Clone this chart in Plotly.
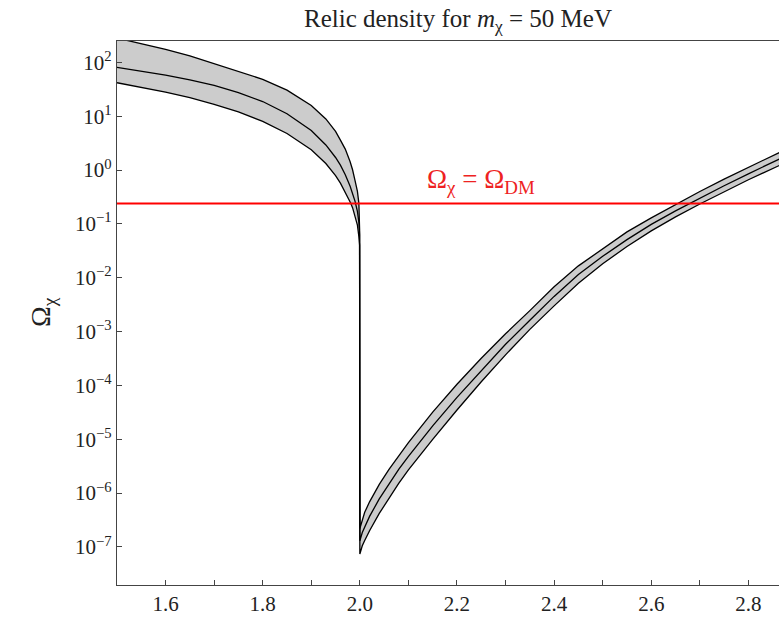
import plotly.graph_objects as go

# ---- data ----
x_vals = [1.50, 1.55, 1.60, 1.65, 1.70, 1.75, 1.80, 1.85, 1.90, 1.93, 1.95, 1.96, 1.97,
          1.98, 1.985, 1.99, 1.995, 1.998, 1.9995,
          2.000, 2.005, 2.010, 2.020, 2.040, 2.060, 2.080, 2.100, 2.150, 2.200, 2.250,
          2.300, 2.350, 2.400, 2.450, 2.500, 2.550, 2.600, 2.650, 2.700, 2.750, 2.800, 2.865]

omega_upper = [282, 224, 174, 132, 95, 69, 48.3, 30.5, 15.8, 8.9, 5.2, 3.6, 2.45,
               1.42, 1.01, 0.64, 0.40, 0.24, 0.079,
               2.2e-7, 3.3e-7, 4.4e-7, 6.9e-7, 1.45e-6, 2.75e-6, 5.0e-6, 8.7e-6, 3.2e-5, 1.05e-4, 3.2e-4,
               9.1e-4, 2.45e-3, 6.8e-3, 1.66e-2, 3.5e-2, 7.1e-2, 0.129, 0.229, 0.40, 0.68, 1.12, 2.14]

omega_central = [80.7, 68.9, 57.8, 47.2, 37.4, 27.4, 18.7, 11.1, 5.4, 2.92, 1.71, 1.23, 0.82,
                 0.50, 0.366, 0.265, 0.171, 0.107, 0.063,
                 1.3e-7, 1.86e-7, 2.4e-7, 3.7e-7, 7.8e-7, 1.48e-6, 2.75e-6, 4.8e-6, 1.78e-5, 6.0e-5, 1.9e-4,
                 5.8e-4, 1.62e-3, 4.5e-3, 1.15e-2, 2.5e-2, 5.1e-2, 9.8e-2, 0.174, 0.30, 0.51, 0.85, 1.62]

omega_lower = [41.8, 34.5, 27.9, 22.0, 16.6, 12.0, 8.0, 4.78, 2.38, 1.32, 0.79, 0.57, 0.391,
               0.255, 0.200, 0.145, 0.095, 0.058, 0.040,
               7.4e-8, 1.05e-7, 1.32e-7, 2.0e-7, 4.2e-7, 8.1e-7, 1.51e-6, 2.7e-6, 1.0e-5, 3.5e-5, 1.17e-4,
               3.7e-4, 1.10e-3, 3.0e-3, 7.9e-3, 1.82e-2, 3.8e-2, 7.4e-2, 0.135, 0.234, 0.40, 0.66, 1.23]

omega_dm = 0.24
x_range = [1.5, 2.863]

y_tick_exps = [-7, -6, -5, -4, -3, -2, -1, 0, 1, 2]
x_tick_vals = [1.6, 1.8, 2.0, 2.2, 2.4, 2.6, 2.8]
x_tick_text = ["1.6", "1.8", "2.0", "2.2", "2.4", "2.6", "2.8"]

FONT = "Liberation Serif"
AX = "#444444"
TXT = "#222222"

fig = go.Figure()

# grey band between upper and lower curves
fig.add_trace(go.Scatter(
    x=x_vals + x_vals[::-1],
    y=omega_upper + omega_lower[::-1],
    fill="toself", fillcolor="#cccccc",
    line=dict(width=0), mode="lines", hoverinfo="skip", showlegend=False))

for ys in (omega_upper, omega_central, omega_lower):
    fig.add_trace(go.Scatter(x=x_vals, y=ys, mode="lines",
                             line=dict(color="black", width=1.3), showlegend=False))

fig.add_trace(go.Scatter(x=x_range, y=[omega_dm, omega_dm], mode="lines",
                         line=dict(color="#ff0000", width=2), showlegend=False))

fig.update_layout(
    width=779, height=618,
    margin=dict(l=117, r=0, t=41, b=33),
    plot_bgcolor="white", paper_bgcolor="white",
    font=dict(family=FONT, size=20, color=TXT),
    showlegend=False,
)

fig.update_xaxes(
    range=x_range, tickvals=x_tick_vals, ticktext=x_tick_text,
    ticks="inside", ticklen=5, tickcolor=AX, tickwidth=1,
    showline=True, linecolor=AX, linewidth=1.3, mirror=True,
    showgrid=False, zeroline=False,
    minor=dict(dtick=0.1, tick0=1.5, ticks="inside", ticklen=5, tickcolor=AX, showgrid=False),
    tickfont=dict(family=FONT, size=21, color=TXT),
)

fig.update_yaxes(
    type="log", range=[-7.706, 2.396],
    tickvals=[10.0 ** e for e in y_tick_exps],
    ticktext=["10<sup>%s</sup>" % (str(e).replace("-", "\u2212")) for e in y_tick_exps],
    ticks="inside", ticklen=5, tickcolor=AX, tickwidth=1,
    showline=True, linecolor=AX, linewidth=1.3,
    showgrid=False, zeroline=False,
    tickfont=dict(family=FONT, size=21, color=TXT),
)

fig.add_annotation(
    text="Relic density for <i>m</i><sub>χ</sub> = 50 MeV",
    xref="paper", yref="paper", x=(458 - 117) / 662, y=1 + 21 / 544,
    xanchor="center", yanchor="middle", showarrow=False,
    font=dict(family=FONT, size=25, color=TXT))

fig.add_annotation(
    text="Ω<sub>χ</sub>",
    xref="paper", yref="paper", x=(42 - 117) / 662, y=(585 - 312) / 544,
    xanchor="center", yanchor="middle", showarrow=False, textangle=-90,
    font=dict(family=FONT, size=28, color=TXT))

fig.add_annotation(
    text="Ω<sub>χ</sub> = Ω<sub>DM</sub>",
    xref="x", yref="y", x=2.25, y=-0.2,
    xanchor="center", yanchor="middle", showarrow=False,
    font=dict(family=FONT, size=27, color="#ee2222"))

fig.write_html("out.html", post_script="document.body.style.margin='0';",
               config={"displayModeBar": False})
